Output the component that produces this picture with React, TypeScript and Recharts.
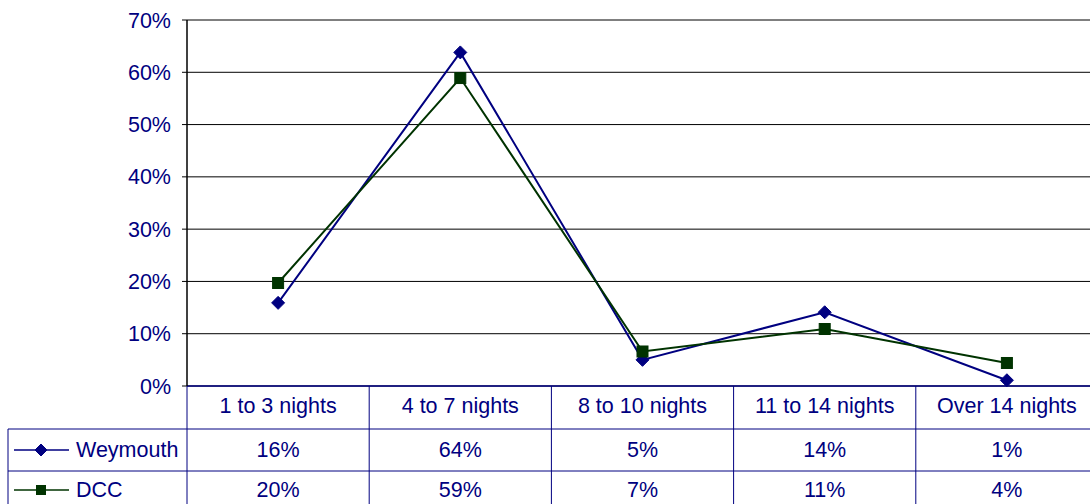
import React from 'react';
import { LineChart, Line, XAxis, YAxis, CartesianGrid } from 'recharts';

const categories = ['1 to 3 nights', '4 to 7 nights', '8 to 10 nights', '11 to 14 nights', 'Over 14 nights'];
const weymouthValues = [0.159, 0.638, 0.05, 0.141, 0.011];
const dccValues = [0.197, 0.589, 0.066, 0.109, 0.044];
const weymouthLabels = ['16%', '64%', '5%', '14%', '1%'];
const dccLabels = ['20%', '59%', '7%', '11%', '4%'];
const yTicks = [0, 0.1, 0.2, 0.3, 0.4, 0.5, 0.6, 0.7];

const NAVY = '#000080';
const GREEN = '#003300';
const FONT = '"Liberation Sans", Arial, sans-serif';
const FS = 21.5;

const series = [
  { key: 'weymouth', name: 'Weymouth', color: NAVY, marker: 'diamond', labels: weymouthLabels },
  { key: 'dcc', name: 'DCC', color: GREEN, marker: 'square', labels: dccLabels },
];

const data = categories.map((cat, i) => ({ cat, weymouth: weymouthValues[i], dcc: dccValues[i] }));

const CHART_W = 1100;
const CHART_H = 504;
const PLOT_LEFT = 187;
const PLOT_RIGHT = 1098;
const BW = (PLOT_RIGHT - PLOT_LEFT) / categories.length;
const TABLE_LEFT = 8;
const ROW_LINES = [43, 85];
const TEXT_CENTERS = [20, 64, 104];

function Marker({ cx, cy, kind, color, size }: any) {
  if (cx == null || cy == null) return null;
  if (kind === 'diamond') {
    const r = size / 2;
    return <path d={`M${cx},${cy - r}L${cx + r},${cy}L${cx},${cy + r}L${cx - r},${cy}Z`} fill={color} stroke={color} />;
  }
  const h = size / 2;
  return <rect x={cx - h} y={cy - h} width={size} height={size} fill={color} stroke={color} />;
}

function TableTick(props: any) {
  const { x, y, payload, index } = props;
  const top = y;
  const bottom = CHART_H + 10;
  const left = x - BW / 2;
  const right = x + BW / 2;
  const txt = { fill: NAVY, fontSize: FS, fontFamily: FONT, textAnchor: 'middle' as const, dominantBaseline: 'central' as const };
  return (
    <g>
      {index === 0 && (
        <g>
          <line x1={left} y1={top} x2={left} y2={bottom} stroke={NAVY} strokeWidth={1} />
          <line x1={TABLE_LEFT} y1={top + ROW_LINES[0]} x2={TABLE_LEFT} y2={bottom} stroke={NAVY} strokeWidth={1} />
          {ROW_LINES.map((r) => (
            <line key={r} x1={TABLE_LEFT} y1={top + r} x2={PLOT_RIGHT} y2={top + r} stroke={NAVY} strokeWidth={1} />
          ))}
          {series.map((s, i) => {
            const cy = top + TEXT_CENTERS[i + 1];
            return (
              <g key={s.key}>
                <line x1={14} y1={cy} x2={69} y2={cy} stroke={s.color} strokeWidth={1.5} />
                <Marker cx={41} cy={cy} kind={s.marker} color={s.color} size={s.marker === 'diamond' ? 12 : 9} />
                <text x={76} y={cy} fill={NAVY} fontSize={FS} fontFamily={FONT} dominantBaseline="central">{s.name}</text>
              </g>
            );
          })}
        </g>
      )}
      <line x1={right} y1={top} x2={right} y2={bottom} stroke={NAVY} strokeWidth={1} />
      <text x={x} y={top + TEXT_CENTERS[0]} {...txt}>{payload.value}</text>
      {series.map((s, i) => (
        <text key={s.key} x={x} y={top + TEXT_CENTERS[i + 1]} {...txt}>{s.labels[index]}</text>
      ))}
    </g>
  );
}

export default function App() {
  return (
    <div style={{ position: 'absolute', left: 0, top: 0, width: 1090, height: 504, overflow: 'hidden', background: '#fff' }}>
      <LineChart width={CHART_W} height={CHART_H} data={data} margin={{ top: 20, right: CHART_W - PLOT_RIGHT, left: 0, bottom: 0 }}>
        <CartesianGrid horizontal vertical={false} stroke="#000" strokeWidth={1} />
        <XAxis
          dataKey="cat"
          scale="band"
          interval={0}
          height={118}
          tickSize={0}
          tickMargin={0}
          tickLine={false}
          axisLine={{ stroke: NAVY, strokeWidth: 1.5 }}
          tick={<TableTick />}
        />
        <YAxis
          width={PLOT_LEFT}
          domain={[0, 0.7]}
          ticks={yTicks}
          interval={0}
          tickFormatter={(v: number) => `${Math.round(v * 100)}%`}
          tick={{ fill: NAVY, fontSize: FS, fontFamily: FONT }}
          tickSize={5}
          tickMargin={11}
          tickLine={{ stroke: '#000' }}
          axisLine={{ stroke: '#000', strokeWidth: 1.5 }}
        />
        {series.map((s) => (
          <Line
            key={s.key}
            dataKey={s.key}
            name={s.name}
            stroke={s.color}
            strokeWidth={2}
            isAnimationActive={false}
            dot={(p: any) => <Marker key={`${s.key}-${p.index}`} cx={p.cx} cy={p.cy} kind={s.marker} color={s.color} size={s.marker === 'diamond' ? 13 : 11} />}
            activeDot={false}
          />
        ))}
      </LineChart>
    </div>
  );
}
